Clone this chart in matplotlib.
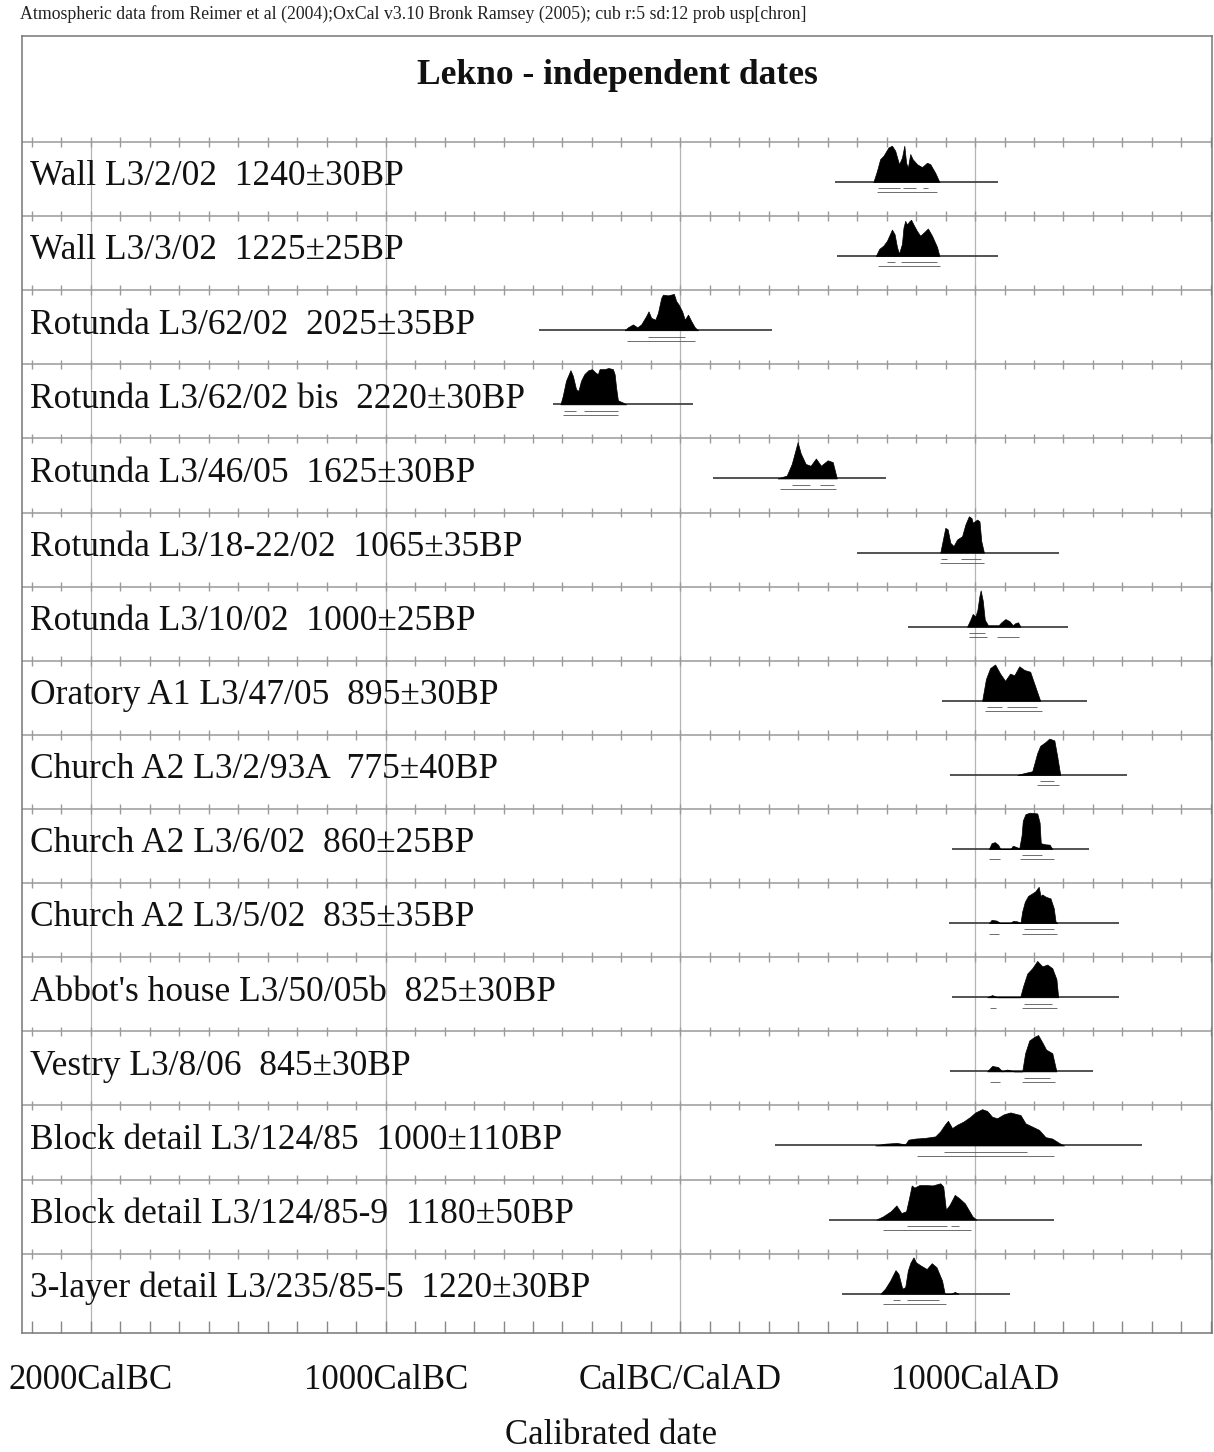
import numpy as np
import matplotlib
matplotlib.use("Agg")
import matplotlib.pyplot as plt

plt.rcParams['font.family'] = ['Liberation Serif', 'DejaVu Serif']

# row labels (top to bottom)
labels = [
    "Wall L3/2/02  1240±30BP",
    "Wall L3/3/02  1225±25BP",
    "Rotunda L3/62/02  2025±35BP",
    "Rotunda L3/62/02 bis  2220±30BP",
    "Rotunda L3/46/05  1625±30BP",
    "Rotunda L3/18-22/02  1065±35BP",
    "Rotunda L3/10/02  1000±25BP",
    "Oratory A1 L3/47/05  895±30BP",
    "Church A2 L3/2/93A  775±40BP",
    "Church A2 L3/6/02  860±25BP",
    "Church A2 L3/5/02  835±35BP",
    "Abbot's house L3/50/05b  825±30BP",
    "Vestry L3/8/06  845±30BP",
    "Block detail L3/124/85  1000±110BP",
    "Block detail L3/124/85-9  1180±50BP",
    "3-layer detail L3/235/85-5  1220±30BP",
]

# extent of the thin line under each distribution (cal years, BC negative)
line_from = [524, 531, -480, -432, 111, 599, 774, 888, 915, 922, 911, 922, 915, 321, 505, 547]
line_to = [1078, 1078, 310, 43, 698, 1285, 1315, 1381, 1517, 1387, 1489, 1490, 1401, 1566, 1268, 1120]

# probability curves (years, relative height)
curve_years = [
    [655, 667, 678, 689, 706, 718, 729, 742, 752, 760, 766, 772, 780, 788, 803, 820, 837, 848, 865, 879],
    [663, 675, 689, 701, 718, 727, 735, 742, 752, 757, 763, 769, 777, 783, 791, 803, 814, 826, 840, 854, 871, 879],
    [-189, -178, -161, -146, -133, -116, -108, -99, -85, -76, -65, -59, -42, -22, -14, -6, 6, 15, 26, 37, 49, 60],
    [-407, -399, -388, -373, -365, -354, -346, -337, -326, -312, -300, -289, -280, -274, -257, -244, -229, -223, -218, -212, -195, -184],
    [330, 361, 378, 388, 398, 408, 425, 442, 460, 477, 500, 517, 531],
    [882, 890, 899, 907, 916, 927, 939, 956, 967, 979, 988, 992, 999, 1007, 1015, 1021, 1030],
    [973, 984, 992, 1001, 1008, 1015, 1019, 1026, 1033, 1044, 1080, 1089, 1103, 1117, 1128, 1137, 1146, 1154],
    [1024, 1037, 1051, 1068, 1085, 1102, 1119, 1133, 1150, 1167, 1187, 1204, 1221],
    [1143, 1167, 1194, 1211, 1221, 1238, 1252, 1269, 1279, 1289],
    [1047, 1056, 1067, 1078, 1086, 1120, 1128, 1139, 1150, 1158, 1162, 1171, 1185, 1211, 1219, 1223, 1239, 1253, 1262],
    [1047, 1056, 1073, 1086, 1120, 1128, 1143, 1154, 1160, 1169, 1180, 1194, 1205, 1211, 1216, 1222, 1228, 1239, 1256, 1267, 1273, 1279],
    [1041, 1058, 1075, 1153, 1163, 1177, 1194, 1211, 1228, 1245, 1262, 1276, 1282],
    [1041, 1058, 1078, 1092, 1109, 1133, 1160, 1170, 1184, 1201, 1214, 1228, 1241, 1262, 1276],
    [661, 695, 735, 763, 774, 797, 831, 865, 882, 897, 908, 922, 939, 961, 984, 1001, 1024, 1041, 1058, 1075, 1098, 1120, 1143, 1154, 1171, 1194, 1217, 1239, 1262, 1285, 1302],
    [665, 688, 714, 733, 750, 766, 776, 785, 794, 811, 836, 856, 882, 892, 901, 914, 931, 946, 965, 978, 991, 1004],
    [679, 695, 712, 730, 740, 753, 763, 772, 781, 791, 800, 817, 836, 853, 869, 888, 897, 920, 931, 944],
]
curve_heights = [
    [0, 0.30, 0.63, 0.72, 0.95, 1.0, 0.86, 0.49, 0.67, 1.0, 0.53, 0.39, 0.77, 0.63, 0.49, 0.41, 0.53, 0.49, 0.25, 0],
    [0, 0.20, 0.29, 0.42, 0.73, 0.60, 0.25, 0.07, 0.34, 0.78, 0.97, 0.87, 0.96, 1.0, 0.87, 0.69, 0.56, 0.65, 0.76, 0.56, 0.25, 0],
    [0, 0.08, 0.16, 0.08, 0.16, 0.39, 0.52, 0.34, 0.29, 0.48, 0.89, 0.98, 0.96, 1.0, 0.80, 0.71, 0.52, 0.29, 0.43, 0.25, 0.08, 0],
    [0, 0.23, 0.65, 0.94, 0.79, 0.42, 0.37, 0.65, 0.83, 0.94, 0.97, 0.88, 0.83, 0.97, 0.97, 1.0, 0.97, 0.83, 0.46, 0.11, 0.05, 0],
    [0, 0.08, 0.40, 0.70, 1.0, 0.70, 0.40, 0.35, 0.55, 0.35, 0.50, 0.45, 0],
    [0, 0.32, 0.68, 0.64, 0.27, 0.18, 0.36, 0.45, 0.77, 1.0, 0.95, 0.82, 0.86, 0.91, 0.86, 0.32, 0],
    [0, 0.19, 0.35, 0.28, 0.46, 0.85, 1.0, 0.72, 0.19, 0.04, 0.04, 0.12, 0.21, 0.15, 0.04, 0.10, 0.12, 0],
    [0, 0.60, 0.90, 1.0, 0.75, 0.55, 0.75, 0.70, 0.95, 0.85, 0.80, 0.40, 0],
    [0, 0.05, 0.10, 0.60, 0.80, 0.90, 1.0, 0.95, 0.50, 0],
    [0, 0.16, 0.19, 0.12, 0, 0, 0.09, 0.06, 0.02, 0.38, 0.78, 0.96, 1.0, 0.98, 0.73, 0.16, 0.13, 0.12, 0],
    [0, 0.09, 0.07, 0, 0, 0.06, 0.05, 0, 0.32, 0.59, 0.75, 0.82, 0.88, 0.95, 1.0, 0.75, 0.79, 0.73, 0.68, 0.41, 0.05, 0],
    [0, 0.06, 0, 0, 0.30, 0.65, 0.80, 1.0, 0.85, 0.90, 0.80, 0.50, 0],
    [0, 0.15, 0.12, 0, 0.05, 0, 0, 0.50, 0.85, 0.95, 1.0, 0.80, 0.60, 0.50, 0],
    [0, 0.05, 0.07, 0.03, 0.16, 0.19, 0.21, 0.25, 0.39, 0.57, 0.68, 0.48, 0.57, 0.66, 0.79, 0.91, 1.0, 0.95, 0.79, 0.75, 0.86, 0.91, 0.86, 0.84, 0.61, 0.52, 0.43, 0.23, 0.19, 0.07, 0],
    [0, 0.09, 0.23, 0.39, 0.18, 0.23, 0.59, 0.94, 0.88, 0.95, 0.95, 0.94, 1.0, 0.91, 0.27, 0.41, 0.68, 0.59, 0.45, 0.27, 0.09, 0],
    [0, 0.14, 0.36, 0.65, 0.55, 0.14, 0.18, 0.64, 0.86, 1.0, 0.86, 0.77, 0.68, 0.84, 0.73, 0.36, 0, 0, 0.05, 0],
]

# 68.2% and 95.4% ranges
range68 = [
    [(672, 746), (757, 800), (825, 840)],
    [(700, 730), (750, 870)],
    [(-110, 15)],
    [(-394, -354), (-326, -212)],
    [(378, 439), (473, 520)],
    [(886, 905), (953, 1021)],
    [(979, 1035)],
    [(1041, 1092), (1109, 1211)],
    [(1221, 1269)],
    [(1160, 1228)],
    [(1166, 1268)],
    [(1167, 1262)],
    [(1167, 1255)],
    [(893, 1177)],
    [(768, 905), (918, 944)],
    [(720, 746), (768, 879)],
]
range95 = [
    [(667, 871)],
    [(672, 880)],
    [(-180, 48)],
    [(-399, -212)],
    [(337, 527)],
    [(882, 1030)],
    [(979, 1041), (1075, 1148)],
    [(1034, 1228)],
    [(1211, 1286)],
    [(1047, 1086), (1154, 1269)],
    [(1047, 1080), (1160, 1279)],
    [(1051, 1071), (1160, 1279)],
    [(1051, 1085), (1160, 1272)],
    [(803, 1268)],
    [(688, 985)],
    [(688, 901)],
]

major_years = [-2000, -1000, 0, 1000]
major_labels = ["2000CalBC", "1000CalBC", "CalBC/CalAD", "1000CalAD"]

W, H = 1214, 1452
fig = plt.figure(figsize=(W / 100, H / 100), dpi=100)
ax = fig.add_axes([22 / W, 1 - 1333 / H, 1190 / W, (1333 - 36) / H])

n = len(labels)
ax.set_xlim(-2234, 1804)
ax.set_ylim(16.07, -1.43)

grid_col = '#b5b5b5'
row_col = '#9a9a9a'

# vertical grid at the 1000-year marks
ax.vlines(major_years, 0, 16.07, color=grid_col, lw=0.9, zorder=1)

# row separators with 100-year ticks
tick_years = np.arange(-2200, 1801, 100)
for k in range(n):
    ax.axhline(k, color=row_col, lw=1.1, zorder=1)
    ax.vlines(tick_years, k - 0.065, k + 0.065, color=row_col, lw=1.0, zorder=1)

peak = 0.49
for k in range(n):
    base = k + 0.54
    ax.hlines(base, line_from[k], line_to[k], color='#444444', lw=1.3, zorder=2)
    yrs = np.array(curve_years[k])
    hts = np.array(curve_heights[k])
    ax.fill_between(yrs, base, base - hts * peak, color='black', lw=0.5,
                    edgecolor='black', zorder=3)
    for a, b in range68[k]:
        ax.hlines(base + 0.085, a, b, color='#555555', lw=0.6, zorder=2)
    for a, b in range95[k]:
        ax.hlines(base + 0.14, a, b, color='#555555', lw=0.6, zorder=2)
    ax.text(8 / 1190, k + 0.47, labels[k], transform=ax.get_yaxis_transform(),
            ha='left', va='center', fontsize=25.5, color='#111111')

ax.text(0.5, -0.9, "Lekno - independent dates", transform=ax.get_yaxis_transform(),
        ha='center', va='center', fontsize=25.5, fontweight='bold', color='#111111')

ax.set_xticks(major_years, labels=major_labels)
ax.set_xticks(tick_years, minor=True)
ax.tick_params(axis='x', which='both', direction='in', length=9, width=1.0,
               color='#888888', labelsize=25, pad=22, labelcolor='#111111')
ax.set_yticks([])
for s in ax.spines.values():
    s.set_color('#777777')
    s.set_linewidth(1.1)

fig.text(0.5 + 4 / W, 1 - 1436 / H, "Calibrated date", ha='center', va='center',
         fontsize=25, color='#111111')
fig.text(20 / W, 1 - 14 / H,
         "Atmospheric data from Reimer et al (2004);OxCal v3.10 Bronk Ramsey (2005); cub r:5 sd:12 prob usp[chron]",
         ha='left', va='center', fontsize=12.8, color='#222222')

fig.savefig("out.png", dpi=100)
